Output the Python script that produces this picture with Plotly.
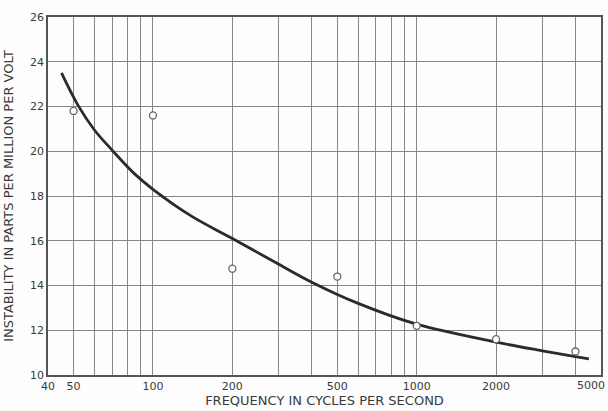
import plotly.graph_objects as go

# Measured points: frequency (c/s) and instability (parts per million per volt)
meas_freq = [50, 100, 200, 500, 1000, 2000, 4000]
meas_instab = [21.8, 21.6, 14.75, 14.4, 12.2, 11.6, 11.05]

# Faired curve drawn through the measurements
curve_freq = [45, 52, 60, 70, 85, 100, 140, 200, 300, 400, 600, 1000, 2000, 3000, 4000, 4500]
curve_instab = [23.5, 22.05, 20.95, 20.05, 19.0, 18.3, 17.1, 16.1, 14.95, 14.15, 13.2, 12.27,
                11.47, 11.08, 10.82, 10.72]

# Axis ticks
x_major = [40, 50, 100, 200, 500, 1000, 2000]
x_edge_label = "5000"
x_minor = [60, 70, 80, 90, 300, 400, 600, 700, 800, 900, 3000, 4000]
y_ticks = [10, 12, 14, 16, 18, 20, 22, 24, 26]

ink = "#3a3a3a"
grid = "#858585"
font_family = "DejaVu Sans"

fig = go.Figure()

fig.add_trace(go.Scatter(
    x=curve_freq, y=curve_instab,
    mode="lines",
    line=dict(color="#2b2b2b", width=2.8, shape="spline", smoothing=1.0),
    hoverinfo="skip", showlegend=False,
))

fig.add_trace(go.Scatter(
    x=meas_freq, y=meas_instab,
    mode="markers",
    marker=dict(symbol="circle", size=7, color="white",
                line=dict(color="#666666", width=1.3)),
    showlegend=False,
))

# the last frequency label sits against the right edge of the page
fig.add_annotation(
    text=x_edge_label, xref="paper", yref="paper", x=1, y=0,
    xanchor="right", yanchor="top", xshift=6, yshift=-2,
    showarrow=False, font=dict(size=11, color=ink),
)

fig.update_layout(
    width=608, height=411,
    margin=dict(l=48, r=7, t=17, b=36),
    paper_bgcolor="#fdfdfd",
    plot_bgcolor="#fdfdfd",
    font=dict(family=font_family, color=ink, size=11),
    xaxis=dict(
        type="log",
        range=[1.60206, 3.69897],
        tickvals=x_major,
        ticktext=[str(v) for v in x_major],
        tickfont=dict(size=11),
        automargin=False,
        showgrid=True, gridcolor=grid, gridwidth=1,
        minor=dict(tickvals=x_minor, showgrid=True, gridcolor=grid, gridwidth=1),
        showline=True, linecolor="#555555", linewidth=1.6, mirror=True,
        ticks="", zeroline=False,
        title=dict(text="FREQUENCY IN CYCLES PER SECOND",
                   font=dict(size=13, color=ink), standoff=2),
    ),
    yaxis=dict(
        range=[10, 26],
        tickvals=y_ticks,
        tickfont=dict(size=11),
        automargin=False,
        showgrid=True, gridcolor=grid, gridwidth=1,
        showline=True, linecolor="#555555", linewidth=1.6, mirror=True,
        ticks="", zeroline=False,
        title=dict(text="INSTABILITY IN PARTS PER MILLION PER VOLT",
                   font=dict(size=13, color=ink), standoff=13),
    ),
)

fig.write_html("out.html")
